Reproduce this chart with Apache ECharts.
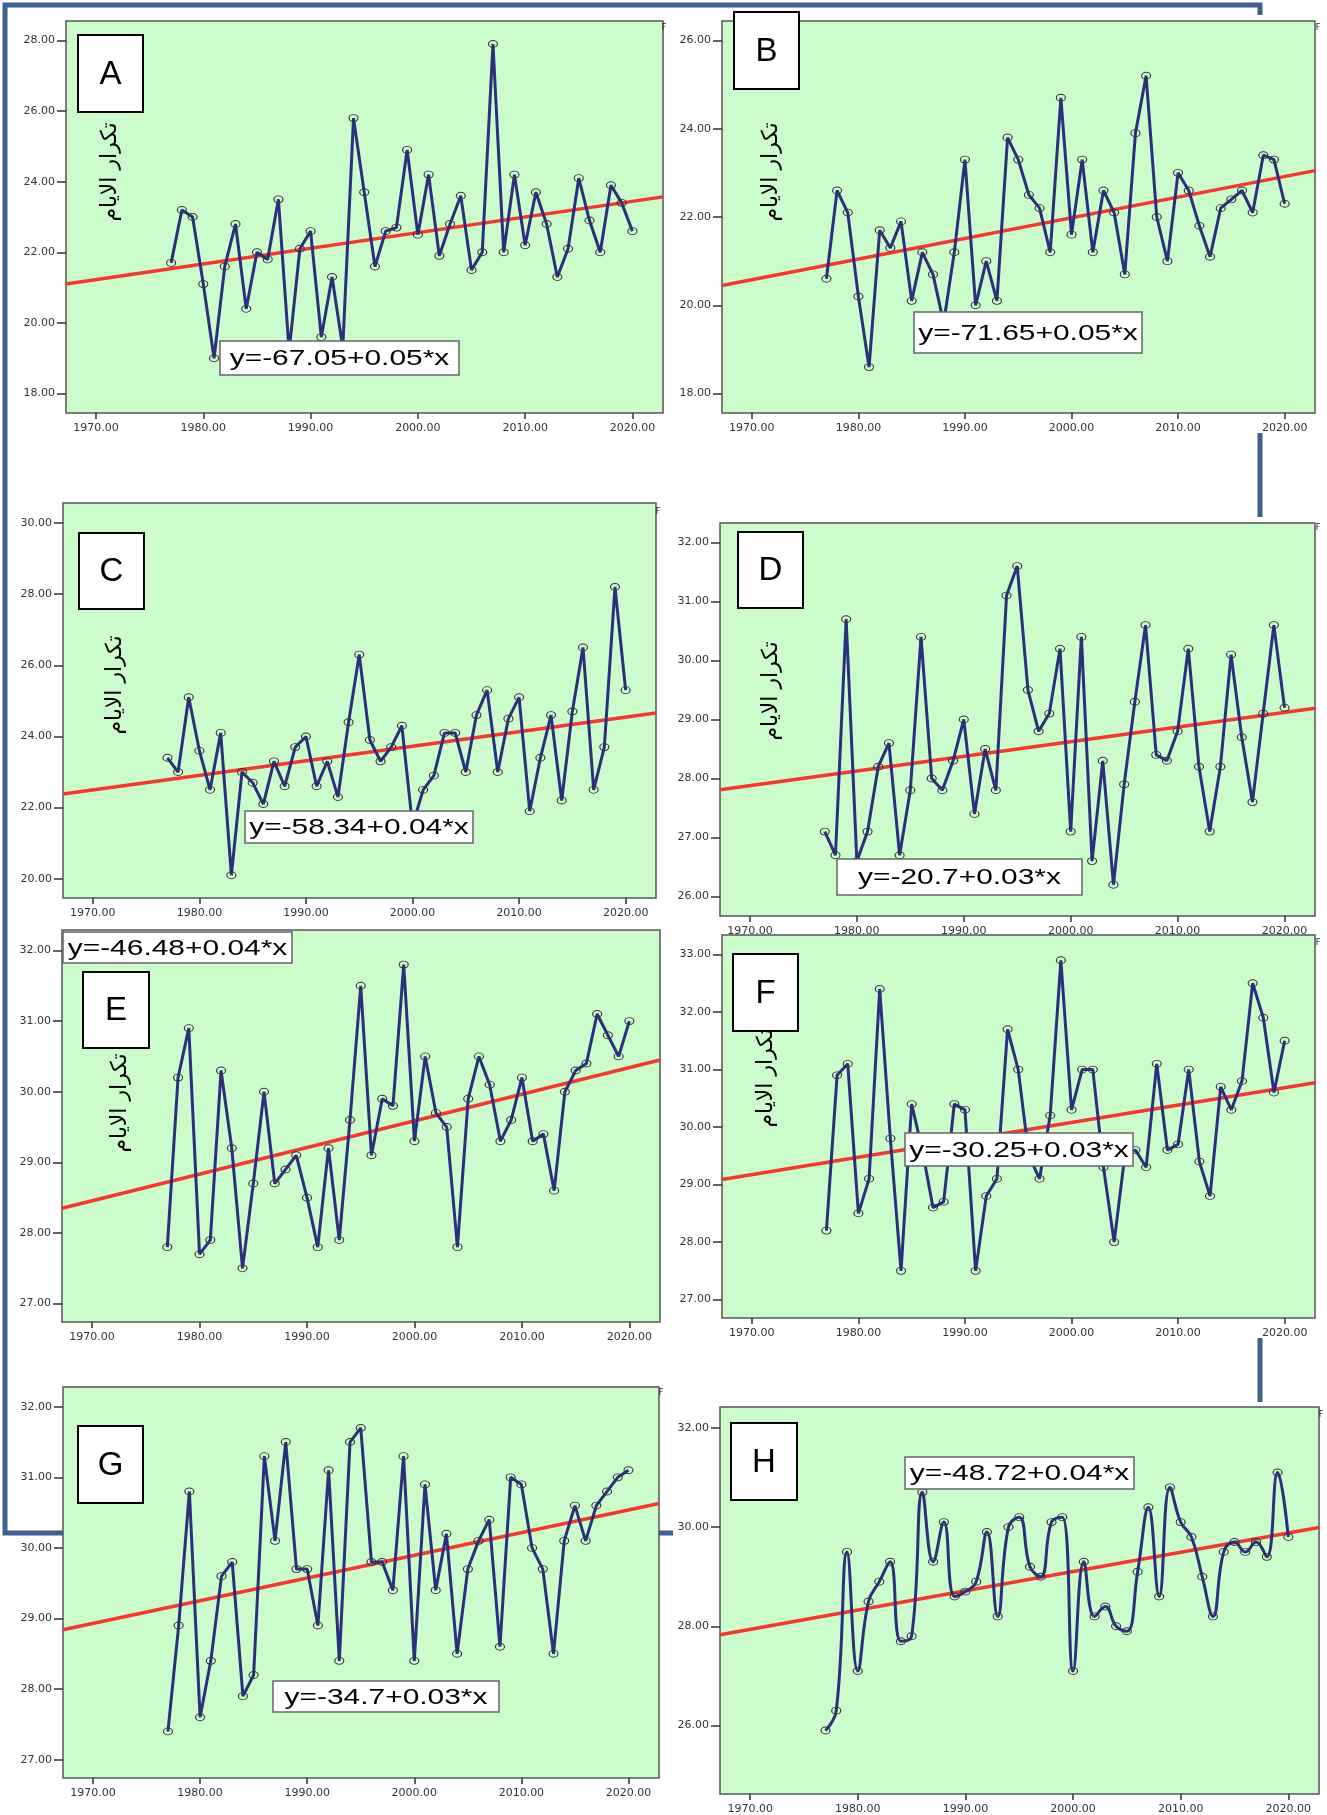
<!DOCTYPE html>
<html>
<head>
    <meta charset="utf-8">
    <title>ECharts</title>
    <style>
        html, body { margin: 0; padding: 0; background: #fff; }
    </style>
</head>
<body>
    <script src="https://cdn.jsdelivr.net/npm/echarts@6/dist/echarts.min.js"></script>
    <div id="main" style="width:1327px;height:1815px"></div>
    <script type="text/javascript">
    // years on the x axis
    var years = [1977, 1978, 1979, 1980, 1981, 1982, 1983, 1984, 1985, 1986,
                 1987, 1988, 1989, 1990, 1991, 1992, 1993, 1994, 1995, 1996,
                 1997, 1998, 1999, 2000, 2001, 2002, 2003, 2004, 2005, 2006,
                 2007, 2008, 2009, 2010, 2011, 2012, 2013, 2014, 2015, 2016,
                 2017, 2018, 2019, 2020];
    var xTicks = [1970, 1980, 1990, 2000, 2010, 2020];

    // yearly values, one array per panel
    var valuesA = [21.7, 23.2, 23.0, 21.1, 19.0, 21.6, 22.8, 20.4, 22.0, 21.8,
                   23.5, 19.2, 22.1, 22.6, 19.6, 21.3, 19.3, 25.8, 23.7, 21.6,
                   22.6, 22.7, 24.9, 22.5, 24.2, 21.9, 22.8, 23.6, 21.5, 22.0,
                   27.9, 22.0, 24.2, 22.2, 23.7, 22.8, 21.3, 22.1, 24.1, 22.9,
                   22.0, 23.9, 23.4, 22.6];
    var valuesB = [20.6, 22.6, 22.1, 20.2, 18.6, 21.7, 21.3, 21.9, 20.1, 21.2,
                   20.7, 19.6, 21.2, 23.3, 20.0, 21.0, 20.1, 23.8, 23.3, 22.5,
                   22.2, 21.2, 24.7, 21.6, 23.3, 21.2, 22.6, 22.1, 20.7, 23.9,
                   25.2, 22.0, 21.0, 23.0, 22.6, 21.8, 21.1, 22.2, 22.4, 22.6,
                   22.1, 23.4, 23.3, 22.3];
    var valuesC = [23.4, 23.0, 25.1, 23.6, 22.5, 24.1, 20.1, 23.0, 22.7, 22.1,
                   23.3, 22.6, 23.7, 24.0, 22.6, 23.3, 22.3, 24.4, 26.3, 23.9,
                   23.3, 23.7, 24.3, 21.5, 22.5, 22.9, 24.1, 24.1, 23.0, 24.6,
                   25.3, 23.0, 24.5, 25.1, 21.9, 23.4, 24.6, 22.2, 24.7, 26.5,
                   22.5, 23.7, 28.2, 25.3];
    var valuesD = [27.1, 26.7, 30.7, 26.6, 27.1, 28.2, 28.6, 26.7, 27.8, 30.4,
                   28.0, 27.8, 28.3, 29.0, 27.4, 28.5, 27.8, 31.1, 31.6, 29.5,
                   28.8, 29.1, 30.2, 27.1, 30.4, 26.6, 28.3, 26.2, 27.9, 29.3,
                   30.6, 28.4, 28.3, 28.8, 30.2, 28.2, 27.1, 28.2, 30.1, 28.7,
                   27.6, 29.1, 30.6, 29.2];
    var valuesE = [27.8, 30.2, 30.9, 27.7, 27.9, 30.3, 29.2, 27.5, 28.7, 30.0,
                   28.7, 28.9, 29.1, 28.5, 27.8, 29.2, 27.9, 29.6, 31.5, 29.1,
                   29.9, 29.8, 31.8, 29.3, 30.5, 29.7, 29.5, 27.8, 29.9, 30.5,
                   30.1, 29.3, 29.6, 30.2, 29.3, 29.4, 28.6, 30.0, 30.3, 30.4,
                   31.1, 30.8, 30.5, 31.0];
    var valuesF = [28.2, 30.9, 31.1, 28.5, 29.1, 32.4, 29.8, 27.5, 30.4, 29.6,
                   28.6, 28.7, 30.4, 30.3, 27.5, 28.8, 29.1, 31.7, 31.0, 29.5,
                   29.1, 30.2, 32.9, 30.3, 31.0, 31.0, 29.3, 28.0, 29.5, 29.6,
                   29.3, 31.1, 29.6, 29.7, 31.0, 29.4, 28.8, 30.7, 30.3, 30.8,
                   32.5, 31.9, 30.6, 31.5];
    var valuesG = [27.4, 28.9, 30.8, 27.6, 28.4, 29.6, 29.8, 27.9, 28.2, 31.3,
                   30.1, 31.5, 29.7, 29.7, 28.9, 31.1, 28.4, 31.5, 31.7, 29.8,
                   29.8, 29.4, 31.3, 28.4, 30.9, 29.4, 30.2, 28.5, 29.7, 30.1,
                   30.4, 28.6, 31.0, 30.9, 30.0, 29.7, 28.5, 30.1, 30.6, 30.1,
                   30.6, 30.8, 31.0, 31.1];
    var valuesH = [25.9, 26.3, 29.5, 27.1, 28.5, 28.9, 29.3, 27.7, 27.8, 30.7,
                   29.3, 30.1, 28.6, 28.7, 28.9, 29.9, 28.2, 30.0, 30.2, 29.2,
                   29.0, 30.1, 30.2, 27.1, 29.3, 28.2, 28.4, 28.0, 27.9, 29.1,
                   30.4, 28.6, 30.8, 30.1, 29.8, 29.0, 28.2, 29.5, 29.7, 29.5,
                   29.7, 29.4, 31.1, 29.8];

    // fitted lines (ends at the plot edges)
    var trendA = [[1967.2, 21.1], [2022.85, 23.57]];
    var trendB = [[1967.2, 20.45], [2022.85, 23.05]];
    var trendC = [[1967.2, 22.38], [2022.85, 24.66]];
    var trendD = [[1967.2, 27.81], [2022.85, 29.19]];
    var trendE = [[1967.2, 28.35], [2022.85, 30.45]];
    var trendF = [[1967.2, 29.09], [2022.85, 30.77]];
    var trendG = [[1967.2, 28.84], [2022.85, 30.63]];
    var trendH = [[1967.2, 27.83], [2022.85, 29.99]];

    // y tick labels
    var yTicksA = [18, 20, 22, 24, 26, 28];
    var yTicksB = [18, 20, 22, 24, 26];
    var yTicksC = [20, 22, 24, 26, 28, 30];
    var yTicksD = [26, 27, 28, 29, 30, 31, 32];
    var yTicksE = [27, 28, 29, 30, 31, 32];
    var yTicksF = [27, 28, 29, 30, 31, 32, 33];
    var yTicksG = [27, 28, 29, 30, 31, 32];
    var yTicksH = [26, 28, 30, 32];

    var equations = ['y=-67.05+0.05*x', 'y=-71.65+0.05*x', 'y=-58.34+0.04*x', 'y=-20.7+0.03*x',
                     'y=-46.48+0.04*x', 'y=-30.25+0.03*x', 'y=-34.7+0.03*x', 'y=-48.72+0.04*x'];
    var letters = ['A', 'B', 'C', 'D', 'E', 'F', 'G', 'H'];
    var yName = 'تكرار الايام';

    // layout of each panel (pixels)
    var panels = [
        {vals: valuesA, trend: trendA, yr: [17.45, 28.55], yt: yTicksA, grid: [66, 21, 597, 392], box: [78, 35, 65, 77], eq: [220, 341, 239, 34], ar: [110, 172], mark: [664, 28]},
        {vals: valuesB, trend: trendB, yr: [17.56, 26.44], yt: yTicksB, grid: [722, 21, 593, 392], box: [734, 12, 65, 77], eq: [914, 312, 228, 41], ar: [771, 172], mark: [1318, 28]},
        {vals: valuesC, trend: trendC, yr: [19.46, 30.56], yt: yTicksC, grid: [63, 503, 593, 395], box: [79, 533, 65, 76], eq: [245, 811, 228, 32], ar: [115, 685], mark: [658, 512]},
        {vals: valuesD, trend: trendD, yr: [25.67, 32.33], yt: yTicksD, grid: [720, 523, 595, 393], box: [738, 532, 65, 76], eq: [837, 859, 245, 36], ar: [771, 691], mark: [1318, 528]},
        {vals: valuesE, trend: trendE, yr: [26.74, 32.29], yt: yTicksE, grid: [62, 930, 598, 392], box: [83, 972, 66, 76], eq: [63, 932, 229, 31], ar: [120, 1103], mark: null},
        {vals: valuesF, trend: trendF, yr: [26.68, 33.34], yt: yTicksF, grid: [722, 935, 593, 383], box: [733, 954, 65, 77], eq: [905, 1133, 228, 33], ar: [766, 1078], mark: [1318, 943]},
        {vals: valuesG, trend: trendG, yr: [26.74, 32.28], yt: yTicksG, grid: [63, 1387, 596, 391], box: [78, 1426, 65, 77], eq: [273, 1681, 226, 31], ar: null, mark: [661, 1393]},
        {vals: valuesH, trend: trendH, yr: [24.62, 32.42], yt: yTicksH, grid: [720, 1407, 599, 391], box: [731, 1423, 66, 77], eq: [905, 1457, 229, 32], ar: null, mark: [1321, 1415], smooth: true}
    ];

    var labelFont = 'DejaVu Sans';
    var grids = [], xAxes = [], yAxes = [], series = [];
    // frame behind everything, white masks hide it behind the right column
    var graphics = [
        {type: 'rect', shape: {x: 5, y: 5, width: 1255, height: 1528}, style: {fill: 'none', stroke: '#3d5e8e', lineWidth: 5}, z: -10},
        {type: 'rect', shape: {x: 673, y: 15, width: 654, height: 418}, style: {fill: '#fff'}, z: -5},
        {type: 'rect', shape: {x: 673, y: 517, width: 654, height: 821}, style: {fill: '#fff'}, z: -5},
        {type: 'rect', shape: {x: 673, y: 1402, width: 654, height: 413}, style: {fill: '#fff'}, z: -5}
    ];

    panels.forEach(function (p, i) {
        grids.push({
            left: p.grid[0], top: p.grid[1], width: p.grid[2], height: p.grid[3],
            show: true, backgroundColor: '#ccfccc', borderColor: '#555', borderWidth: 1.5
        });
        xAxes.push({
            type: 'value', gridIndex: i, min: 1967.2, max: 2022.85,
            axisLine: {show: false}, splitLine: {show: false},
            axisTick: {show: true, customValues: xTicks, length: 6, lineStyle: {color: '#333', width: 1.5}},
            axisLabel: {customValues: xTicks, margin: 10, fontFamily: labelFont, fontSize: 11, color: '#333',
                formatter: function (v) { return v.toFixed(2); }}
        });
        yAxes.push({
            type: 'value', gridIndex: i, min: p.yr[0], max: p.yr[1],
            axisLine: {show: false}, splitLine: {show: false},
            axisTick: {show: true, customValues: p.yt, length: 9, lineStyle: {color: '#333', width: 1.5}},
            axisLabel: {customValues: p.yt, margin: 11, fontFamily: labelFont, fontSize: 11, color: '#333',
                formatter: function (v) { return v.toFixed(2); }}
        });
        series.push({
            type: 'line', xAxisIndex: i, yAxisIndex: i, data: p.trend,
            symbol: 'none', silent: true, z: 2,
            lineStyle: {color: '#ee3a31', width: 3.5}
        });
        series.push({
            type: 'line', xAxisIndex: i, yAxisIndex: i,
            data: years.map(function (y, j) { return [y, p.vals[j]]; }),
            smooth: p.smooth ? 0.45 : false,
            symbol: 'circle', symbolSize: [9, 7], z: 3,
            itemStyle: {color: 'rgba(0,0,0,0)', borderColor: '#333', borderWidth: 1},
            lineStyle: {color: '#2c2f7c', width: 3}
        });

        // y axis title
        if (p.ar) {
            graphics.push({type: 'text', x: p.ar[0], y: p.ar[1], rotation: Math.PI / 2, z: 99,
                style: {text: yName, font: '22px "DejaVu Sans"', fill: '#000',
                    align: 'center', verticalAlign: 'middle', textAlign: 'center', textVerticalAlign: 'middle'}});
        }
        // panel letter
        graphics.push({type: 'rect', z: 100, shape: {x: p.box[0], y: p.box[1], width: p.box[2], height: p.box[3]},
            style: {fill: '#fff', stroke: '#000', lineWidth: 2}});
        graphics.push({type: 'text', z: 101, x: p.box[0] + p.box[2] / 2, y: p.box[1] + p.box[3] / 2 + 1,
            style: {text: letters[i], font: '33px "Liberation Sans"', fill: '#000',
                align: 'center', verticalAlign: 'middle', textAlign: 'center', textVerticalAlign: 'middle'}});
        // regression equation
        graphics.push({type: 'rect', z: 100, shape: {x: p.eq[0], y: p.eq[1], width: p.eq[2], height: p.eq[3]},
            style: {fill: '#fff', stroke: '#666', lineWidth: 1.5}});
        graphics.push({type: 'text', z: 101, x: p.eq[0] + p.eq[2] / 2, y: p.eq[1] + p.eq[3] / 2 + 1, scaleX: 1.36,
            style: {text: equations[i], font: '22px "Liberation Sans"', fill: '#000',
                align: 'center', verticalAlign: 'middle', textAlign: 'center', textVerticalAlign: 'middle'}});
        if (p.mark) {
            graphics.push({type: 'text', z: 101, x: p.mark[0], y: p.mark[1],
                style: {text: 'F', font: '8px "DejaVu Sans"', fill: '#222',
                    align: 'center', verticalAlign: 'middle', textAlign: 'center', textVerticalAlign: 'middle'}});
        }
    });

    var myChart = echarts.init(document.getElementById('main'), null, {renderer: 'canvas'});
    myChart.setOption({
        backgroundColor: '#fff',
        animation: false,
        grid: grids,
        xAxis: xAxes,
        yAxis: yAxes,
        series: series,
        graphic: {elements: graphics}
    });
    </script>
</body>
</html>
